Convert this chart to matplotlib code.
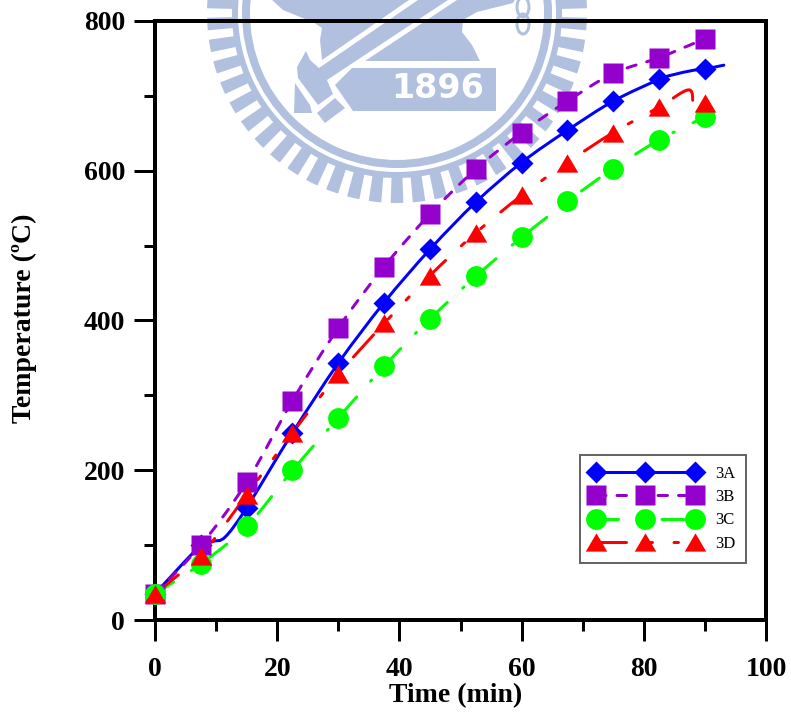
import matplotlib
matplotlib.use("Agg")
import matplotlib.pyplot as plt
import numpy as np
from matplotlib.lines import Line2D
from matplotlib.patches import Ellipse, PathPatch, Polygon, Wedge
from matplotlib.path import Path

plt.rcParams["font.family"] = ["Liberation Serif", "DejaVu Serif"]
plt.rcParams["lines.scale_dashes"] = False

# ---- marker readings ----
time_marks = [0, 7.5, 15, 22.5, 30, 37.5, 45, 52.5, 60, 67.5, 75, 82.5, 90]
a_marks = [35, 100, 150, 250, 343, 424, 495, 558, 611, 654, 693, 722, 736]
b_marks = [35, 100, 184, 293, 390, 472, 542, 602, 651, 693, 730, 751, 776]
c_marks = [35, 75, 125, 200, 270, 339, 402, 459, 511, 559, 603, 641, 672]
d_marks = [35, 85, 167, 250, 328, 396, 460, 517, 567, 611, 651, 685, 690]

# ---- knots the smoothed lines pass through ----
a_line_t = [0, 7.5, 9.5, 11.5, 15, 22.5, 30, 37.5, 45, 52.5, 60, 67.5, 75, 82.5, 84.7, 88, 90, 93.1]
a_line_v = [35, 100, 105, 111, 150, 250, 343, 424, 495, 558, 611, 654, 693, 722, 728, 734, 736, 741]
b_line_t = [0, 7.5, 15, 22.5, 30, 37.5, 45, 52.5, 60, 67.5, 75, 82.5, 90, 92.3]
b_line_v = [35, 100, 184, 293, 390, 472, 542, 602, 651, 693, 730, 751, 776, 781]
c_line_t = time_marks
c_line_v = c_marks
d_line_t = [0, 4.4, 7.5, 15, 22.5, 30, 37.5, 45, 52.5, 60, 67.5, 75, 82.5, 87.4, 88.2, 90]
d_line_v = [35, 64, 85, 167, 250, 328, 396, 460, 517, 567, 611, 651, 685, 708, 684, 690]

series_names = ["3A", "3B", "3C", "3D"]
x_ticks = [0, 20, 40, 60, 80, 100]
y_ticks = [0, 200, 400, 600, 800]
x_minor = [10, 30, 50, 70, 90]
y_minor = [100, 300, 500, 700]

PX = 0.72  # points per pixel at dpi 100
fig = plt.figure(figsize=(7.91, 7.15), dpi=100)

# ---- seal watermark, in pixel coordinates ----
bg = fig.add_axes([0, 0, 1, 1], zorder=0)
bg.set_xlim(0, 791)
bg.set_ylim(715, 0)
bg.axis("off")
SEAL = "#B0C0DE"
cx, cy = 397, 13
bg.add_patch(Wedge((cx, cy), 155, 0, 360, width=8, fc=SEAL, ec="none"))
bg.add_patch(Wedge((cx, cy), 165, 0, 360, width=6, fc=SEAL, ec="none"))
for ang in np.arange(90, 450, 360 / 54):
    bg.add_patch(Wedge((cx, cy), 190, ang - 1.9, ang + 1.9, width=27, fc=SEAL, ec="none"))
shapes = [
    [(272, 0), (283, 10), (300, 17), (313, 22), (322, 28), (320, 40), (322, 60), (409, 0)],
    [(306, 51), (297, 67), (298, 78), (318, 105), (333, 94), (327, 80), (448, 0), (418, 0), (319, 68), (310, 60)],
    [(457, 0), (365, 61), (480, 61), (472, 45), (462, 32), (463, 20), (477, 12), (513, 3), (515, 0)],
    [(352, 68), (496, 68), (496, 111), (353, 111), (335, 85)],
    [(295, 83), (294, 113), (312, 113), (310, 105)],
    [(317, 113), (335, 98), (345, 108), (325, 123)],
]
for pts in shapes:
    bg.add_patch(Polygon(pts, closed=True, fc=SEAL, ec="none"))
for yc, h in [(7, 20), (24, 20)]:
    bg.add_patch(Ellipse((523, yc), 12, h, fc="none", ec=SEAL, lw=3 * PX))
bg.text(438, 89, "1896", color="white", ha="center", va="center",
        family="DejaVu Sans", weight="bold", fontsize=24)

# ---- chart ----
ax = fig.add_axes([155 / 791, 1 - 620 / 715, 611 / 791, 599 / 715], zorder=1)
ax.patch.set_visible(False)
ax.set_xlim(0, 100)
ax.set_ylim(0, 800)


def smooth(ts, vs):
    p = np.column_stack([ts, vs]).astype(float)
    q = np.vstack([p[0], p, p[-1]])
    verts, codes = [p[0]], [Path.MOVETO]
    for i in range(1, len(q) - 2):
        verts += [q[i] + (q[i + 1] - q[i - 1]) / 6, q[i + 1] - (q[i + 2] - q[i]) / 6, q[i + 1]]
        codes += [Path.CURVE4] * 3
    return Path(verts, codes)


def dash(*px):
    return (0, tuple(v * PX for v in px))


LW = 3 * PX
TRIANGLE = [(-1, -0.85), (1, -0.85), (0, 0.85)]
styles = {
    "3A": ("#0000FF", "D", 11.2, "-"),
    "3B": ("#9400CC", "s", 15, dash(9.5, 11)),
    "3C": ("#00FF00", "o", 15, dash(22, 21, 1.5, 21)),
    "3D": ("#FF0000", TRIANGLE, 15.5, dash(30, 21.5, 4.5, 21.5, 4.5, 21.5)),
}
lines = {"3A": (a_line_t, a_line_v), "3B": (b_line_t, b_line_v),
         "3C": (c_line_t, c_line_v), "3D": (d_line_t, d_line_v)}
marks = {"3A": a_marks, "3B": b_marks, "3C": c_marks, "3D": d_marks}
handles = []
for k, name in enumerate(series_names):
    col, mk, ms, ls = styles[name]
    ax.add_patch(PathPatch(smooth(*lines[name]), fc="none", ec=col, lw=LW, ls=ls,
                           capstyle="round", zorder=2 + k, clip_on=False))
    ax.plot(time_marks, marks[name], ls="none", marker=mk, ms=ms, color=col, mec="none",
            zorder=6 + k, clip_on=False)
    handles.append(Line2D([], [], color=col, lw=LW, ls=ls, marker=mk, ms=ms, mec="none",
                          dash_capstyle="round", label=name))

for s in ax.spines.values():
    s.set_linewidth(4 * PX)
ax.set_xticks(x_ticks)
ax.set_yticks(y_ticks)
ax.set_xticks(x_minor, minor=True)
ax.set_yticks(y_minor, minor=True)
ax.tick_params(axis="both", which="major", length=21 * PX, width=3 * PX, labelsize=20)
ax.tick_params(axis="both", which="minor", length=11 * PX, width=3 * PX)
ax.tick_params(axis="x", which="major", pad=16 * PX)
ax.tick_params(axis="y", which="major", pad=9 * PX)
for lab in ax.get_xticklabels() + ax.get_yticklabels():
    lab.set_fontweight("bold")

fig.text(456 / 791, 1 - 696 / 715, "Time (min)", ha="center", va="center",
         fontsize=20, fontweight="bold")
fig.text(24 / 791, 1 - 318 / 715, "Temperature (ºC)", ha="center", va="center",
         rotation=90, fontsize=20, fontweight="bold")

leg = ax.legend(handles=handles, numpoints=3, loc="upper left",
                bbox_to_anchor=(580 / 791, 1 - 455 / 715), bbox_transform=fig.transFigure,
                fontsize=12, handlelength=6.55, handletextpad=0.9, labelspacing=0.44,
                borderpad=0.65, borderaxespad=0, fancybox=False, framealpha=1,
                edgecolor="#666666")
leg.get_frame().set_linewidth(2 * PX)
leg.set_zorder(20)

fig.savefig("out.png", dpi=100)
